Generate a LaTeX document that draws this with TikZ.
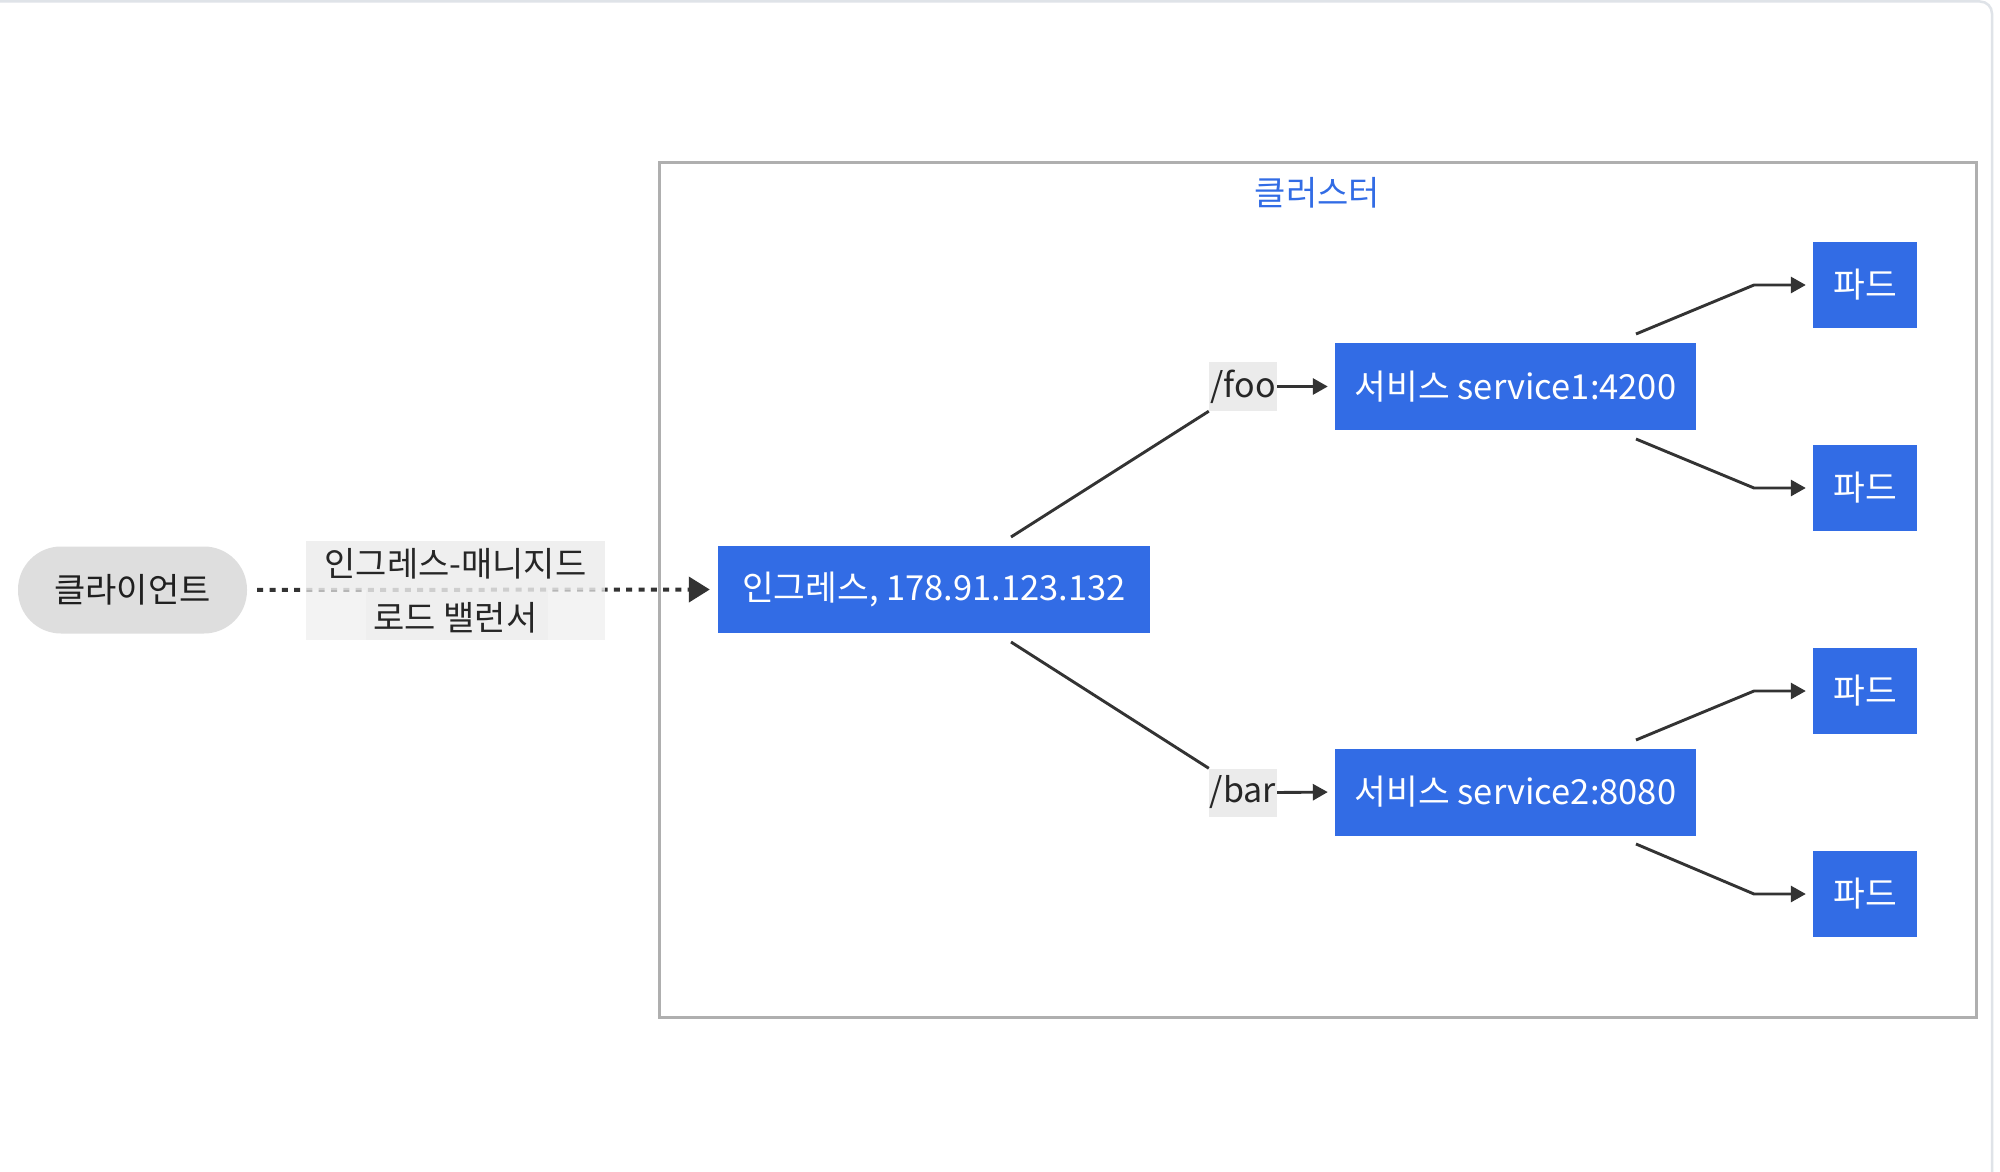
\documentclass[tikz,border=0pt]{standalone}
\usepackage{fontspec}
\setmainfont{Noto Sans CJK KR}
\usetikzlibrary{arrows.meta}
\definecolor{kblue}{HTML}{326CE5}
\definecolor{lineclr}{HTML}{333333}
\definecolor{clusterclr}{HTML}{AFAFAF}
\definecolor{frameclr}{HTML}{DFE3E8}
\definecolor{clientclr}{HTML}{DEDEDE}
\definecolor{lblclr}{HTML}{EBEBEB}
\definecolor{lblouter}{HTML}{EFEFEF}
\definecolor{lblinner}{HTML}{E2E2E2}
\begin{document}
\begin{tikzpicture}[x=1pt,y=-1pt,
  bluebox/.style={fill=kblue, text=white, inner sep=0pt, font=\fontsize{34.5}{40}\selectfont},
  podbox/.style={bluebox, minimum width=104pt, minimum height=86pt},
  svcbox/.style={bluebox, minimum width=361pt, minimum height=87pt},
  pathlbl/.style={fill=lblclr, text=black!85, inner sep=0pt, font=\fontsize{34}{40}\selectfont},
  conn/.style={draw=lineclr, line width=2.9pt},
  conarrow/.style={conn, -{Triangle[length=15pt,width=16pt]}, shorten >=7pt},
  dotarrow/.style={draw=lineclr, line width=4pt, dash pattern=on 6pt off 6.3pt, -{Triangle[length=21pt,width=25pt]}, shorten <=10pt, shorten >=8pt},
  lblpatch/.style={fill=lblinner, fill opacity=0.45}
]
\useasboundingbox (0,0) rectangle (2000,1172);
\clip (0,0) rectangle (2000,1172);
\fill[white] (0,0) rectangle (2000,1172);
\draw[frameclr, line width=2.5pt, rounded corners=12pt] (-30,1.5) rectangle (1992,1190);

% cluster
\draw[clusterclr, line width=3pt] (659,162) rectangle (1976,1017);
\node[text=kblue, font=\fontsize{34}{40}\selectfont] (ctitle) at (1317.5,193) {클러스터};

% client and ingress
\node[fill=clientclr, text=black!88, rounded corners=43pt, minimum width=229pt, minimum height=87pt, inner sep=0pt, font=\fontsize{34}{40}\selectfont] (client) at (132.5,590) {클라이언트};
\node[bluebox, minimum width=432pt, minimum height=87pt] (ing) at (934,589.5) {인그레스, 178.91.123.132};
\draw[dotarrow] (client.east) -- (ing.west);
\fill[lblpatch] (306,541) rectangle (605,590);
\fill[lblpatch] (366,590) rectangle (548,640);
\node[fill=lblouter, fill opacity=0.7, text opacity=1, text=black!85, minimum width=299pt, minimum height=99pt, inner sep=0pt, align=center, font=\fontsize{34}{54}\selectfont] (lb) at (455.5,590.5) {인그레스-매니지드\\로드 밸런서};

% services and path labels
\node[svcbox] (svc1) at (1515.5,386.5) {서비스 service1:4200};
\node[svcbox] (svc2) at (1515.5,792) {서비스 service2:8080};
\node[pathlbl, minimum width=68pt, minimum height=49pt] (foo) at (1243,386.5) {/foo};
\node[pathlbl, minimum width=68pt, minimum height=48pt] (bar) at (1243,792.5) {/bar};

\coordinate (ingtop) at (1011,537);
\coordinate (ingbot) at (1011,642);
\draw[conn] (ingtop) -- (foo.south west);
\draw[conn] (ingbot) -- (bar.north west);
\draw[conarrow] (foo.east) -- (svc1.west);
\draw[conarrow] (bar.east) -- (svc2.west);

% pods
\node[podbox] (p1) at (1865,285) {파드};
\node[podbox] (p2) at (1865,488) {파드};
\node[podbox] (p3) at (1865,691) {파드};
\node[podbox] (p4) at (1865,894) {파드};

\coordinate (s1up) at (1636,334);
\coordinate (s1upb) at (1754,285);
\coordinate (s1dn) at (1636,439);
\coordinate (s1dnb) at (1754,488);
\coordinate (s2up) at (1636,740);
\coordinate (s2upb) at (1754,691);
\coordinate (s2dn) at (1636,844);
\coordinate (s2dnb) at (1754,894);
\draw[conarrow] (s1up) -- (s1upb) -- (p1.west);
\draw[conarrow] (s1dn) -- (s1dnb) -- (p2.west);
\draw[conarrow] (s2up) -- (s2upb) -- (p3.west);
\draw[conarrow] (s2dn) -- (s2dnb) -- (p4.west);
\end{tikzpicture}
\end{document}
